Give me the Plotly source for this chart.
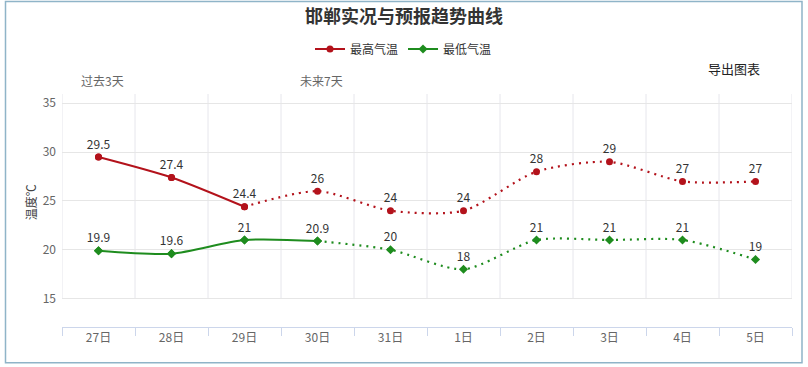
import plotly.graph_objects as go

# ---- data ----
days = ["27日", "28日", "29日", "30日", "31日", "1日", "2日", "3日", "4日", "5日"]
high_temps = [29.5, 27.4, 24.4, 26, 24, 24, 28, 29, 27, 27]
low_temps = [19.9, 19.6, 21, 20.9, 20, 18, 21, 21, 21, 19]
high_solid_end = 2   # last observed index for high series (solid part)
low_solid_end = 3    # last observed index for low series (solid part)
y_ticks = [15, 20, 25, 30, 35]

RED = "#B3121B"
GREEN = "#1E8C1E"
FONT = "Noto Sans CJK SC"
SMOOTH = 0.75

W, H = 808, 367
L, R, T, B = 62, 16, 94, 40.3
PW = W - L - R
PH = H - T - B


def px_x(px):
    return (px - L) / PW


def px_y(py):
    return (H - B - py) / PH


fig = go.Figure()


def add_series(name, vals, solid_end, color, symbol):
    xs = days
    # solid (observed) part
    fig.add_trace(go.Scatter(
        x=xs[:solid_end + 1], y=vals[:solid_end + 1], name=name,
        mode="lines+markers",
        line=dict(color=color, width=2, shape="spline", smoothing=SMOOTH),
        marker=dict(color=color, size=7, symbol=symbol),
        legendgroup=name, showlegend=True, hoverinfo="skip"))
    # dotted (forecast) part
    fig.add_trace(go.Scatter(
        x=xs[solid_end:], y=vals[solid_end:], name=name,
        mode="lines",
        line=dict(color=color, width=2.2, shape="spline", smoothing=SMOOTH, dash="2px,5px"),
        legendgroup=name, showlegend=False, hoverinfo="skip"))
    # markers + labels
    fig.add_trace(go.Scatter(
        x=xs, y=vals, mode="markers+text",
        text=[("%g" % v) for v in vals], textposition="top center",
        textfont=dict(family=FONT, size=12, color="#333333"),
        marker=dict(color=color, size=7, symbol=symbol),
        showlegend=False, hoverinfo="skip"))


add_series("最高气温", high_temps, high_solid_end, RED, "circle")
add_series("最低气温", low_temps, low_solid_end, GREEN, "diamond")

# vertical grid lines at category boundaries
shapes = []
for i in range(len(days) + 1):
    shapes.append(dict(type="line", xref="x", yref="y",
                       x0=i - 0.5, x1=i - 0.5, y0=15, y1=35.95,
                       line=dict(color="#E6E6EC", width=1), layer="below"))
# outer frame
shapes.append(dict(type="rect", xref="paper", yref="paper",
                   x0=px_x(5.5), x1=px_x(802), y0=px_y(1.5), y1=px_y(362.5),
                   line=dict(color="#8FB4C8", width=1.5), layer="below"))

annotations = [
    dict(text="温度℃", xref="paper", yref="paper", x=px_x(30), y=px_y(202),
         textangle=-90, showarrow=False, font=dict(family=FONT, size=12, color="#444444"),
         xanchor="center", yanchor="middle"),
    dict(text="导出图表", xref="paper", yref="paper", x=px_x(733.5), y=px_y(69),
         showarrow=False, font=dict(family=FONT, size=13, color="#222222"),
         xanchor="center", yanchor="middle"),
    dict(text="过去3天", xref="paper", yref="paper", x=px_x(102), y=px_y(81),
         showarrow=False, font=dict(family=FONT, size=12, color="#666666"),
         xanchor="center", yanchor="middle"),
    dict(text="未来7天", xref="paper", yref="paper", x=px_x(321.5), y=px_y(81),
         showarrow=False, font=dict(family=FONT, size=12, color="#666666"),
         xanchor="center", yanchor="middle"),
]

fig.update_layout(
    width=W, height=H,
    margin=dict(l=L, r=R, t=T, b=B, pad=0),
    paper_bgcolor="white", plot_bgcolor="white",
    font=dict(family=FONT, size=12, color="#333333"),
    title=dict(text="<b>邯郸实况与预报趋势曲线</b>", x=0.5, xref="container",
               y=1 - 17 / H, yref="container", xanchor="center", yanchor="middle",
               font=dict(family=FONT, size=18, color="#333333")),
    legend=dict(orientation="h", x=px_x(403.5), xanchor="center", y=px_y(49),
                yanchor="middle", font=dict(family=FONT, size=12, color="#333333"),
                bgcolor="rgba(0,0,0,0)", itemclick=False, itemdoubleclick=False),
    xaxis=dict(type="category", categoryorder="array", categoryarray=days,
               range=[-0.5, len(days) - 0.5], showgrid=False, zeroline=False,
               showline=True, linecolor="#CCD6EB", linewidth=1,
               ticks="outside", tickson="boundaries", ticklen=8, tickcolor="#CCD6EB",
               tickfont=dict(family=FONT, size=12, color="#666666"), fixedrange=True),
    yaxis=dict(range=[12.09, 35.95], tickvals=y_ticks, showgrid=True,
               gridcolor="#E6E6E6", gridwidth=1, zeroline=False, showline=False,
               ticks="", ticklabelstandoff=5,
               tickfont=dict(family=FONT, size=12, color="#666666"), fixedrange=True),
    shapes=shapes, annotations=annotations,
    hovermode=False,
)

fig.write_html("out.html", config={"displayModeBar": False},
               post_script="document.body.style.margin='0';document.body.style.padding='0';")
